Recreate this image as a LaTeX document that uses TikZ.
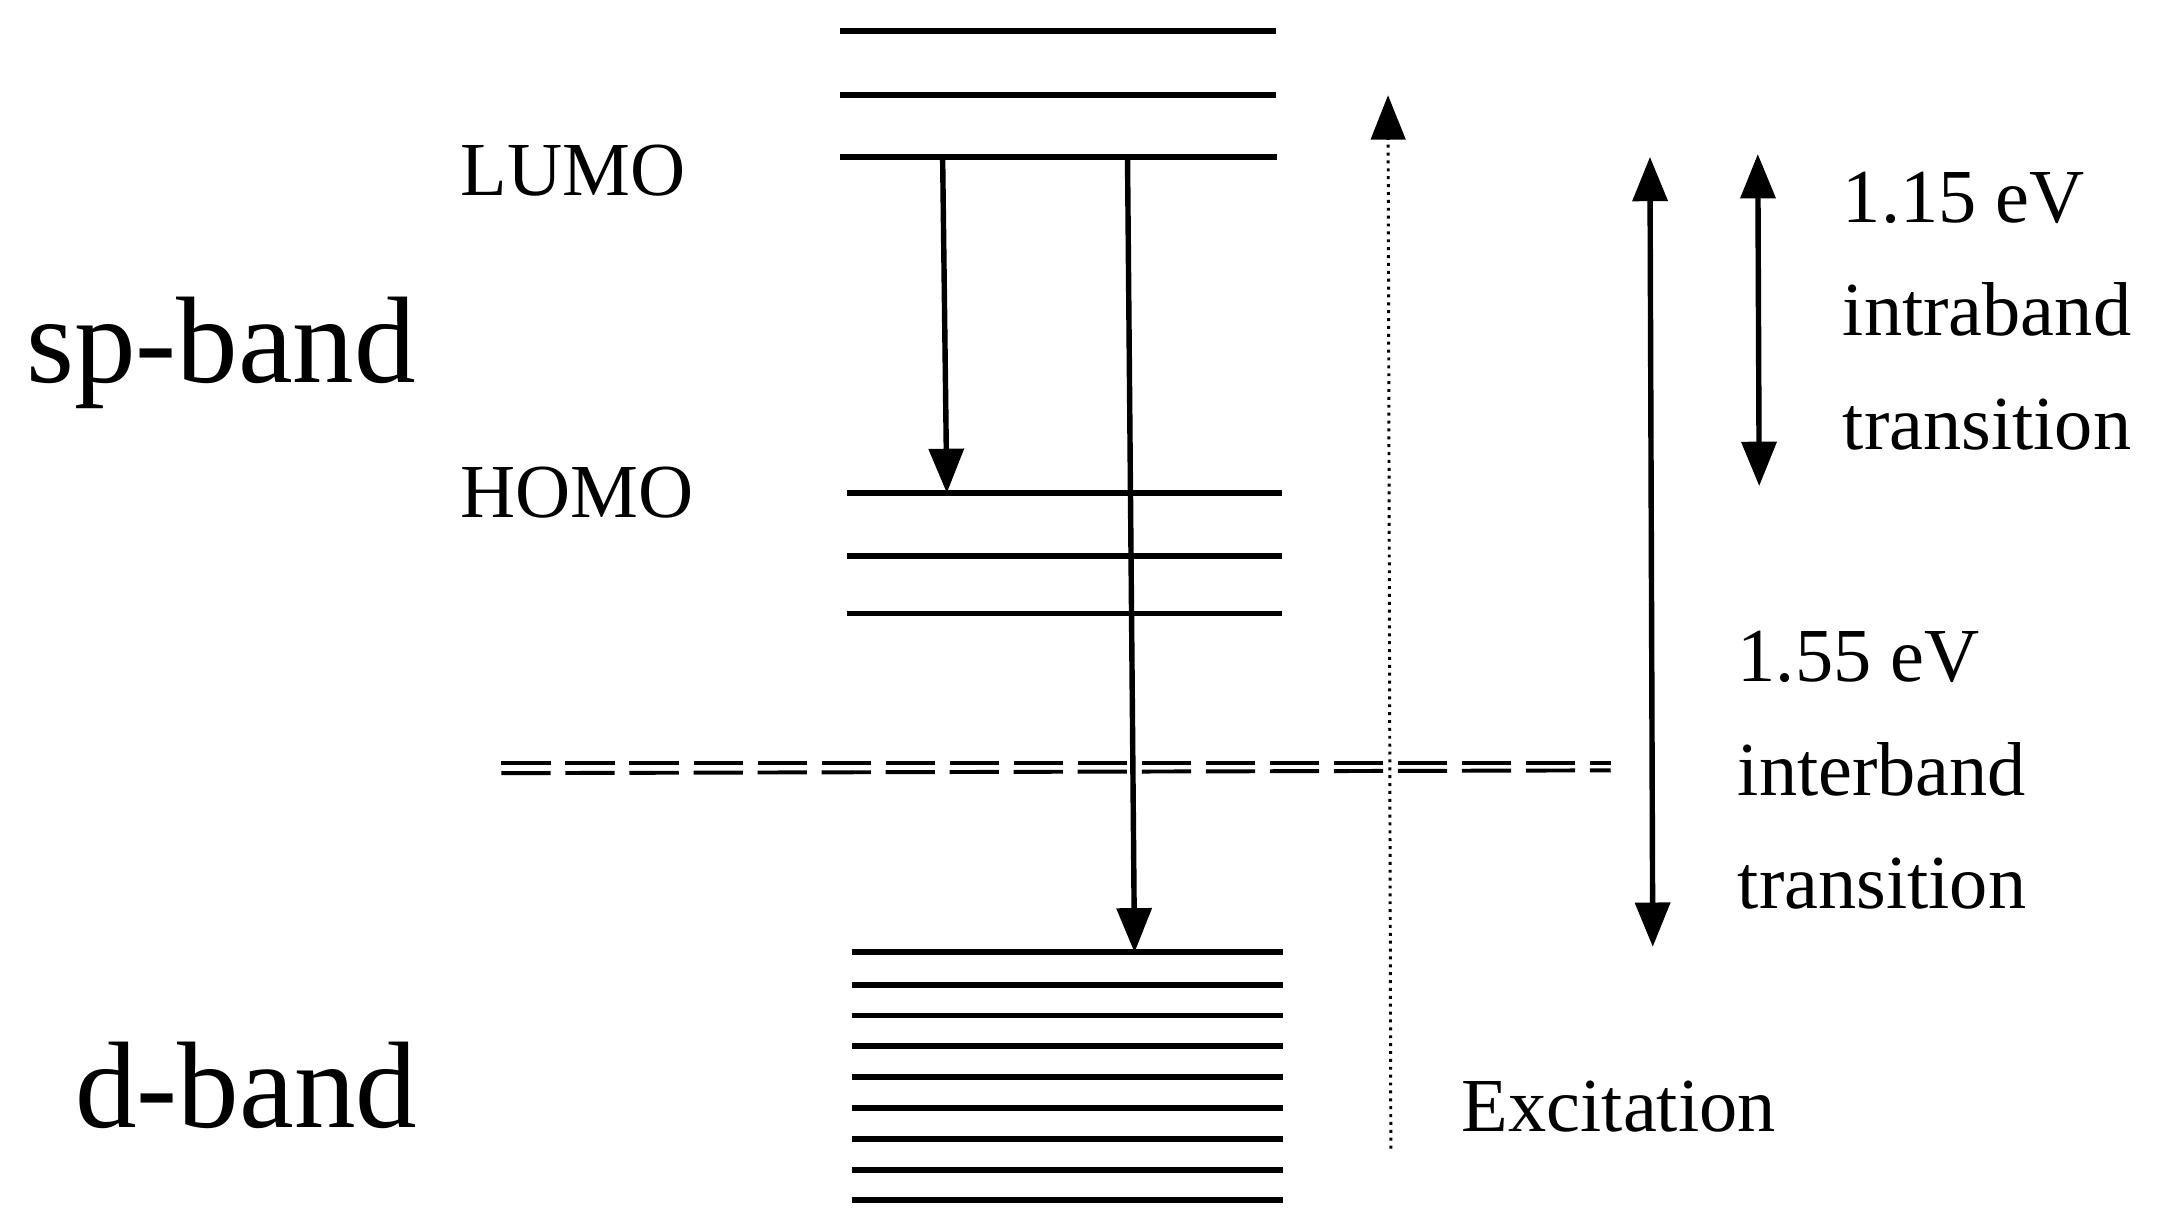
\documentclass[tikz,border=0pt]{standalone}
\usepackage{fontspec}
\setmainfont{Liberation Serif}
\usetikzlibrary{arrows.meta}
\begin{document}
\begin{tikzpicture}[x=0.01cm,y=-0.01cm,
  lvl/.style={line width=1.2pt},
  arr/.style={line width=1.1pt,-{Triangle[length=9pt,width=7pt]}},
  darr/.style={line width=1.1pt,{Triangle[length=9pt,width=7pt]}-{Triangle[length=9pt,width=7pt]}},
  lab/.style={font=\fontsize{15.5}{18}\selectfont,anchor=west,inner sep=0pt},
  big/.style={font=\fontsize{25}{28}\selectfont,anchor=west,inner sep=0pt}]
\useasboundingbox (0,0) rectangle (1550,872);
\foreach \y in {22,68} \draw[lvl] (600,\y) -- (911,\y);
\draw[lvl] (600,112) coordinate(l0) -- (912,112);
\draw[lvl] (605,352) -- (915,352);
\foreach \y in {397,438} \draw[lvl] (605,\y) -- (915,\y);
\foreach \y in {680,703,725,747,769,791,813,835,857} \draw[lvl] (608,\y) -- (916,\y);
\draw[line width=0.8pt,dash pattern=on 10pt off 3pt] (358,545) -- (1150,545);
\draw[line width=0.8pt,dash pattern=on 10pt off 3pt] (358,552) -- (1150,550);
\coordinate (a1s) at (673,112); \coordinate (a1e) at (676,352);
\draw[arr] (a1s) -- (a1e);
\coordinate (a2s) at (805,112); \coordinate (a2e) at (810,680);
\draw[arr] (a2s) -- (a2e);
\coordinate (exs) at (993,820); \coordinate (exe) at (991,68);
\draw[line width=0.6pt,densely dotted,-{Triangle[length=9pt,width=7pt]}] (exs) -- (exe);
\coordinate (d1s) at (1178,112); \coordinate (d1e) at (1180,676);
\draw[darr] (d1s) -- (d1e);
\coordinate (d2s) at (1255,110); \coordinate (d2e) at (1256,347);
\draw[darr] (d2s) -- (d2e);
\node[lab] (lumo) at (328,122) {LUMO};
\node[lab] (homo) at (328,352) {HOMO};
\node[big] (sp) at (18,252) {sp-band};
\node[big] (d) at (53,775) {d-band};
\node[lab,align=left,font=\fontsize{15.5}{23}\selectfont] (intra) at (1315,222) {1.15 eV\\intraband\\transition};
\node[lab,align=left,font=\fontsize{15.5}{23}\selectfont] (inter) at (1240,550) {1.55 eV\\interband\\transition};
\node[lab] (exc) at (1043,790) {Excitation};
\end{tikzpicture}
\end{document}
